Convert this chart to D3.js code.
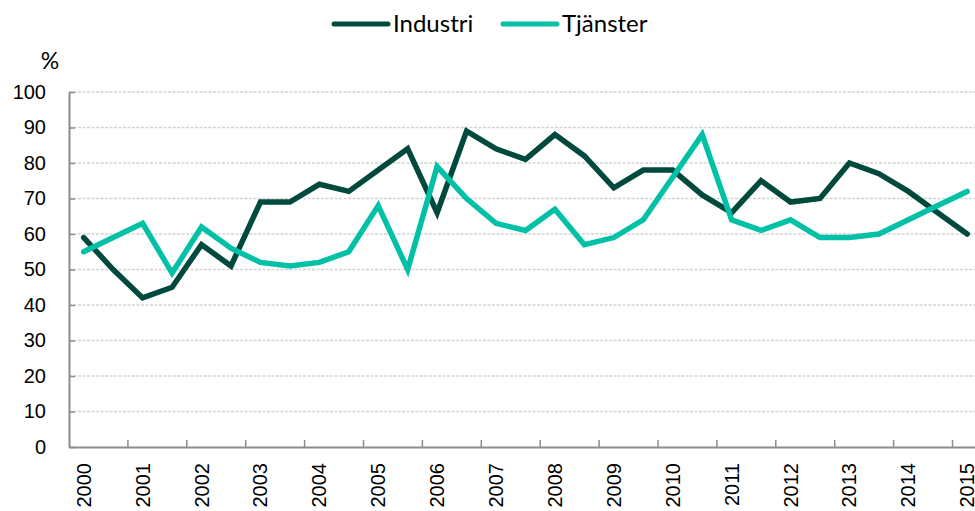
<!DOCTYPE html>
<html>
<head>
<meta charset="utf-8">
<script src="https://cdn.jsdelivr.net/npm/d3@7"></script>
<style>
  body { margin: 0; background: #fff; }
  svg { display: block; }
</style>
</head>
<body>
<svg id="chart"></svg>
<script>
// semiannual observations, 2000 H1 .. 2015 H1
const years = d3.range(2000, 2016).map(String);
const periods = years.flatMap(y => [y + "-1", y + "-2"]).slice(0, 31);
const industri = [59, 50, 42, 45, 57, 51, 69, 69, 74, 72, 78, 84, 66, 89, 84, 81,
                  88, 82, 73, 78, 78, 71, 66, 75, 69, 70, 80, 77, 72, 66, 60];
const tjanster = [55, 59, 63, 49, 62, 56, 52, 51, 52, 55, 68, 50, 79, 70, 63, 61,
                  67, 57, 59, 64, 76, 88, 64, 61, 64, 59, 59, 60, 64, 68, 72];
const yTicks = d3.range(0, 101, 10);

const width = 975;
const height = 511;
const margin = { left: 69, top: 92, bottom: 64 };

const series = [
    { name: "Industri", values: industri, color: "#00493d" },
    { name: "Tjänster", values: tjanster, color: "#00c0a6" }
];

const svg = d3.select("#chart")
    .attr("width", width)
    .attr("height", height);

// plot runs a little past the right edge, like the original crop
const x = d3.scaleBand()
    .domain(periods)
    .range([margin.left, margin.left + periods.length * 29.45]);

const y = d3.scaleLinear()
    .domain([0, 100])
    .range([height - margin.bottom, margin.top]);

// gridlines
svg.append("g")
    .selectAll("line")
    .data(yTicks.filter(d => d > 0))
    .enter()
    .append("line")
    .attr("x1", margin.left)
    .attr("x2", width)
    .attr("y1", d => y(d))
    .attr("y2", d => y(d))
    .attr("stroke", "#d4d4d4")
    .attr("stroke-width", 1.3)
    .attr("stroke-dasharray", "3,1.5");

// y axis
const yAxis = d3.axisLeft(y)
    .tickValues(yTicks)
    .tickSizeInner(-6)
    .tickSizeOuter(0)
    .tickPadding(23);

const yg = svg.append("g")
    .attr("transform", `translate(${margin.left},0)`)
    .call(yAxis);
yg.select(".domain").attr("stroke", "#8c8c8c").attr("stroke-width", 2);
yg.selectAll(".tick line").attr("stroke", "#8c8c8c").attr("stroke-width", 1.5);
yg.selectAll("text")
    .attr("font-family", "Liberation Sans, Arial, sans-serif")
    .attr("font-size", 20)
    .attr("fill", "#000");

// x axis: label on first half of each year, tick on year boundaries
const firstHalves = periods.filter(p => p.endsWith("-1"));
const xAxis = d3.axisBottom(x)
    .tickValues(firstHalves)
    .tickFormat(p => p.slice(0, 4))
    .tickSize(0);

const xg = svg.append("g")
    .attr("transform", `translate(0,${y(0)})`)
    .call(xAxis);
xg.select(".domain").attr("stroke", "#8c8c8c").attr("stroke-width", 2);
xg.selectAll("text")
    .attr("transform", "rotate(-90)")
    .attr("x", -16)
    .attr("y", 0)
    .attr("dy", "0.35em")
    .attr("text-anchor", "end")
    .attr("font-family", "Liberation Sans, Arial, sans-serif")
    .attr("font-size", 20)
    .attr("fill", "#000");

xg.selectAll(".yeartick")
    .data(firstHalves.slice(1))
    .enter()
    .append("line")
    .attr("x1", d => x(d))
    .attr("x2", d => x(d))
    .attr("y1", 0)
    .attr("y2", -7)
    .attr("stroke", "#8c8c8c")
    .attr("stroke-width", 1.5);

// % label
svg.append("text")
    .attr("x", 50)
    .attr("y", 69)
    .attr("text-anchor", "middle")
    .attr("font-family", "Lato, sans-serif")
    .attr("font-size", 23)
    .text("%");

// lines
const line = d3.line()
    .x((d, i) => x(periods[i]) + x.bandwidth() / 2)
    .y(d => y(d));

svg.append("g")
    .selectAll("path")
    .data(series)
    .enter()
    .append("path")
    .attr("d", d => line(d.values))
    .attr("fill", "none")
    .attr("stroke", d => d.color)
    .attr("stroke-width", 5.5)
    .attr("stroke-linejoin", "miter")
    .attr("stroke-linecap", "round");

// legend
const legend = svg.append("g")
    .attr("transform", "translate(334,24)");

const item = legend.selectAll("g")
    .data(series)
    .enter()
    .append("g")
    .attr("transform", (d, i) => `translate(${i * 169},0)`);

item.append("line")
    .attr("x1", 0)
    .attr("x2", 54)
    .attr("stroke", d => d.color)
    .attr("stroke-width", 5)
    .attr("stroke-linecap", "round");

item.append("text")
    .attr("x", 59)
    .attr("dy", "0.35em")
    .attr("font-family", "Lato, sans-serif")
    .attr("font-size", 24)
    .text(d => d.name);
</script>
</body>
</html>
